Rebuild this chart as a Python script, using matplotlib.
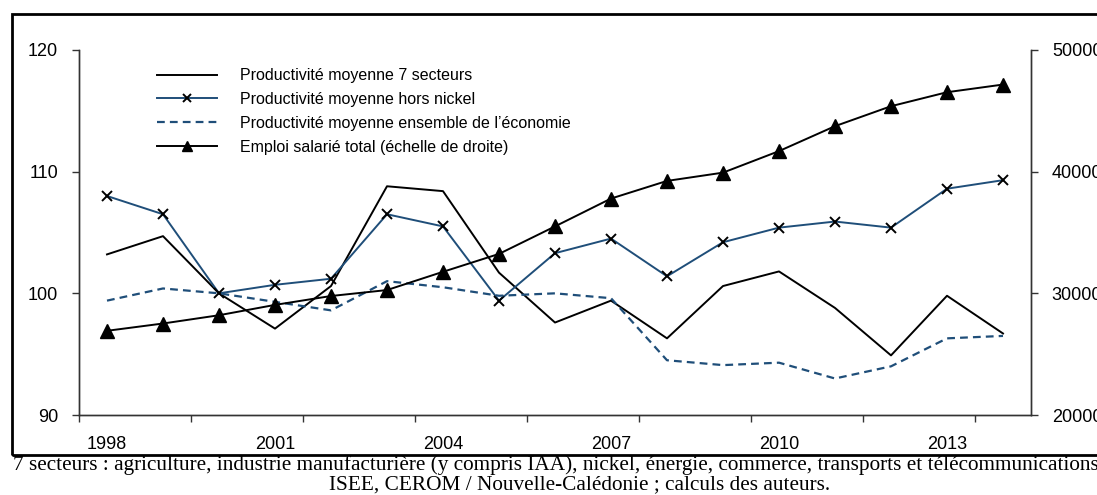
import numpy as np
import matplotlib
matplotlib.use("Agg")
import matplotlib.pyplot as plt
from matplotlib.patches import Rectangle

years = list(range(1998, 2015))
prod_7_secteurs = [103.2, 104.7, 100.0, 97.1, 100.6, 108.8, 108.4, 101.7, 97.6,
                   99.4, 96.3, 100.6, 101.8, 98.8, 94.9, 99.8, 96.7]
prod_hors_nickel = [108.0, 106.5, 100.0, 100.7, 101.2, 106.5, 105.5, 99.4, 103.3,
                    104.5, 101.4, 104.2, 105.4, 105.9, 105.4, 108.6, 109.3]
prod_ensemble = [99.4, 100.4, 100.0, 99.3, 98.6, 101.0, 100.5, 99.8, 100.0,
                 99.6, 94.5, 94.1, 94.3, 93.0, 94.0, 96.3, 96.5]
emploi_total = [26920, 27520, 28200, 29050, 29780, 30270, 31770, 33240, 35500,
                37790, 39240, 39920, 41690, 43740, 45380, 46530, 47160]

labels = ['Productivité moyenne 7 secteurs',
          'Productivité moyenne hors nickel',
          'Productivité moyenne ensemble de l’économie',
          'Emploi salarié total (échelle de droite)']
note_1 = ('7 secteurs : agriculture, industrie manufacturière (y compris IAA), nickel, '
          'énergie, commerce, transports et télécommunications')
note_2 = 'ISEE, CEROM / Nouvelle-Calédonie ; calculs des auteurs.'

plt.rcParams['font.family'] = ['Liberation Sans', 'DejaVu Sans']
serif = ['Liberation Serif', 'DejaVu Serif']

blue = '#1f4e79'
x = np.arange(len(years))

fig = plt.figure(figsize=(10.97, 4.95), dpi=100)
ax = fig.add_axes([79/1097, 80/495, (1031-79)/1097, 365/495])
ax2 = ax.twinx()

l1, = ax.plot(x, prod_7_secteurs, '-', color='black', lw=1.4)
l2, = ax.plot(x, prod_hors_nickel, '-', color=blue, lw=1.4,
              marker='x', markersize=7.5, mec='black', mew=1.4)
l3, = ax.plot(x, prod_ensemble, '--', color=blue, lw=1.6, dashes=(3.5, 2.3))
l4, = ax2.plot(x, emploi_total, '-', color='black', lw=1.4,
               marker='^', markersize=10, mfc='black', mec='black')

ax.set_xlim(-0.5, len(years) - 0.5)
ax.set_ylim(90, 120)
ax2.set_ylim(20000, 50000)
ax.set_yticks([90, 100, 110, 120])
ax2.set_yticks([20000, 30000, 40000, 50000])

ax.set_xticks(np.arange(-0.5, len(years) - 1, 2))
ax.set_xticklabels([])
ax.set_xticks(x[::3], minor=True)
ax.set_xticklabels([str(y) for y in years[::3]], minor=True)
ax.tick_params(axis='x', which='major', length=5, width=1, color='#333333')
ax.tick_params(axis='x', which='minor', length=0, pad=15, labelsize=13)
ax.tick_params(axis='y', length=5, width=1, color='#333333', labelsize=13, pad=10)
ax2.tick_params(axis='y', length=5, width=1, color='#333333', labelsize=13, pad=10)

for a in (ax, ax2):
    a.spines['top'].set_visible(False)
    for s in ('left', 'right', 'bottom'):
        a.spines[s].set_color('#333333')
        a.spines[s].set_linewidth(1)

ax2.legend([l1, l2, l3, l4], labels, loc='upper left',
           bbox_to_anchor=(0.074, 0.972), frameon=False, fontsize=11.5,
           handlelength=3.75, handletextpad=1.45, labelspacing=0.55,
           borderpad=0, markerscale=0.75)

fig.patches.append(Rectangle((12/1097, 40/495), 1.1, (455-14)/495,
                             transform=fig.transFigure, fill=False,
                             edgecolor='black', lw=2))

fig.text(13/1097, 1 - 470/495, note_1, ha='left', va='baseline',
         family=serif, fontsize=15.3)
fig.text(580/1097, 1 - 489/495, note_2, ha='center', va='baseline',
         family=serif, fontsize=15.3)

fig.savefig('out.png', dpi=100)
